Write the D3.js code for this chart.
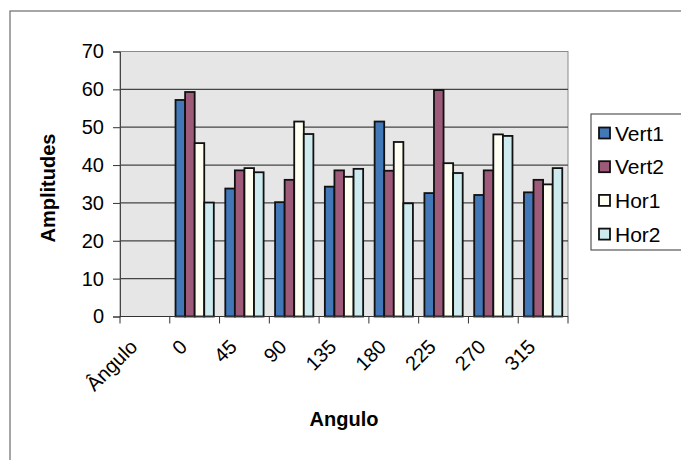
<!DOCTYPE html>
<html><head><meta charset="utf-8">
<script src="https://cdn.jsdelivr.net/npm/d3@7"></script>
<style>body{margin:0;background:#fff}svg{display:block}text{font-family:"Liberation Sans",Arial,sans-serif;fill:#000}</style>
</head><body><svg id="c" width="681" height="460"></svg>
<script>
const categories = ["Ângulo","0","45","90","135","180","225","270","315"];
const seriesNames = ["Vert1","Vert2","Hor1","Hor2"];
const vert1 = [null,57.2,33.8,30.2,34.3,51.5,32.6,32.1,32.8];
const vert2 = [null,59.3,38.6,36.1,38.6,38.5,59.8,38.6,36.1];
const hor1  = [null,45.8,39.2,51.5,36.9,46.1,40.5,48.1,34.9];
const hor2  = [null,30.1,38.1,48.2,39.0,29.9,37.9,47.7,39.2];
const yTicks = [0,10,20,30,40,50,60,70];
const colors = ["#4277b8","#9d5b79","#fffff2","#cdebee"];
const seriesValues = [vert1,vert2,hor1,hor2];

const svg = d3.select("#c");
svg.append("rect").attr("x",10).attr("y",11).attr("width",700).attr("height",500)
  .attr("fill","none").attr("stroke","#777").attr("stroke-width",1.3);

const L=120,R=568,T=51.5,B=316.5;
const x = d3.scaleBand().domain(categories).range([L,R]).padding(0);
const xs = d3.scaleBand().domain(seriesNames).range([0,x.bandwidth()]).paddingInner(0).paddingOuter(0.6);
const y = d3.scaleLinear().domain([0,70]).range([B,T]);

svg.append("rect").attr("x",L).attr("y",T).attr("width",R-L).attr("height",B-T)
  .attr("fill","#e6e6e6").attr("stroke","#8a8a8a").attr("stroke-width",1);
svg.append("g").selectAll("line").data(yTicks.filter(d=>d>0&&d<70)).join("line")
  .attr("x1",L).attr("x2",R).attr("y1",d=>y(d)).attr("y2",d=>y(d))
  .attr("stroke","#444").attr("stroke-width",1.2);

const g = svg.append("g");
seriesNames.forEach((s,si)=>{
  g.append("g").selectAll("rect").data(categories.map((c,i)=>({c,v:seriesValues[si][i]})).filter(d=>d.v!=null))
   .join("rect")
   .attr("x",d=>x(d.c)+xs(s)).attr("width",xs.bandwidth())
   .attr("y",d=>y(d.v)).attr("height",d=>B-y(d.v))
   .attr("fill",colors[si]).attr("stroke","#111").attr("stroke-width",1.8);
});

const ya = d3.axisLeft(y).tickValues(yTicks).tickSize(7).tickPadding(9);
const yg = svg.append("g").attr("transform",`translate(${L},0)`).call(ya);
yg.select(".domain").attr("stroke","#444");
yg.selectAll(".tick line").attr("stroke","#333");
yg.selectAll("text").attr("font-size",20).style("font-family","Liberation Sans, Arial");

const xb = svg.append("g");
xb.append("line").attr("x1",L).attr("x2",R).attr("y1",B).attr("y2",B).attr("stroke","#333").attr("stroke-width",1.2);
const bounds = categories.map(c=>x(c)).concat([R]);
xb.selectAll(".tk").data(bounds).join("line").attr("class","tk")
  .attr("x1",d=>d).attr("x2",d=>d).attr("y1",B).attr("y2",B+7).attr("stroke","#333");
xb.selectAll("text").data(categories).join("text")
  .attr("transform",c=>`translate(${x(c)+x.bandwidth()/2-17},${B+21}) rotate(-45)`)
  .attr("text-anchor","end").attr("dy","0.75em").attr("font-size",20).text(c=>c);

svg.append("text").attr("transform","translate(55,188) rotate(-90)").attr("text-anchor","middle")
  .attr("font-size",20).attr("font-weight","bold").text("Amplitudes");
svg.append("text").attr("x",344).attr("y",426).attr("text-anchor","middle")
  .attr("font-size",20).attr("font-weight","bold").text("Angulo");

const lg = svg.append("g");
lg.append("rect").attr("x",591).attr("y",114).attr("width",120).attr("height",136)
  .attr("fill","#fff").attr("stroke","#555").attr("stroke-width",1.2);
seriesNames.forEach((s,i)=>{
  const cy = 133 + i*33.7;
  lg.append("rect").attr("x",599).attr("y",cy-5.5).attr("width",11).attr("height",11)
    .attr("fill",colors[i]).attr("stroke","#111").attr("stroke-width",1.8);
  lg.append("text").attr("x",615).attr("y",cy).attr("dy","0.36em").attr("font-size",21).text(s);
});
</script></body></html>
